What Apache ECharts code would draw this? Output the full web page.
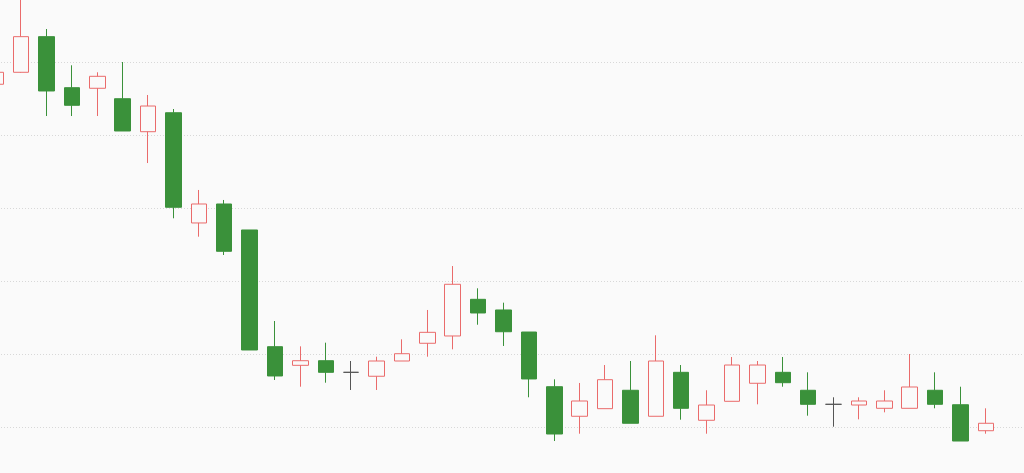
<!DOCTYPE html>
<html>
<head>
<meta charset="utf-8">
<script src="https://cdn.jsdelivr.net/npm/echarts@6/dist/echarts.min.js"></script>
<style>
html,body{margin:0;padding:0;background:#fafafa;width:1024px;height:473px;overflow:hidden;position:relative;}
#chart{position:absolute;left:-17px;top:-11px;width:1041px;height:511px;}
</style>
</head>
<body>
<div id="chart"></div>
<script>
const categories = Array.from({length: 41}, (_, i) => 'D' + (i + 1));
const openValues  = [66.95,68.59,73.47,66.48,66.40,64.97,60.45,63.05,47.95,50.55,46.99,31.00,28.45,29.08,27.49,26.95,29.04,31.47,32.47,37.49,36.03,33.01,25.52,21.47,22.51,25.03,21.47,27.49,20.92,23.52,25.99,27.49,25.03,23.11,23.01,22.56,22.56,25.03,23.05,19.49];
const closeValues = [68.59,73.47,66.03,64.07,68.04,60.55,63.97,50.10,50.55,44.07,30.55,26.99,29.08,27.49,27.49,29.04,30.04,32.97,39.55,35.62,33.05,26.58,19.04,23.56,26.48,20.51,29.04,22.56,23.01,28.49,28.49,26.07,23.11,23.11,23.56,23.56,25.48,23.11,18.08,20.51];
const lowValues   = [66.50,68.53,62.60,62.60,62.60,60.55,56.16,48.59,46.07,43.56,30.55,26.44,25.52,26.07,25.07,25.07,29.04,29.63,30.64,34.01,31.10,24.07,18.08,19.08,22.51,20.51,21.47,21.00,19.08,23.52,23.11,25.52,21.55,20.04,21.05,22.01,22.56,22.56,18.08,19.08];
const highValues  = [69.50,79.60,74.52,69.55,68.59,70.00,65.48,63.56,52.47,51.10,46.99,34.52,31.05,31.55,29.04,29.63,32.01,36.03,42.05,39.00,37.03,33.01,26.53,26.03,28.49,29.04,32.56,28.49,25.03,29.59,29.04,29.59,27.49,24.07,24.07,25.03,30.00,27.49,25.52,22.56];

const candleData = categories.map((_, i) => i < openValues.length
  ? [openValues[i], closeValues[i], lowValues[i], highValues[i]]
  : '-');

const chart = echarts.init(document.getElementById('chart'), null, {renderer: 'canvas'});
chart.setOption({
  animation: false,
  backgroundColor: '#fafafa',
  grid: {left: 0, right: 0, top: 0, bottom: 0, containLabel: false},
  xAxis: {
    type: 'category',
    data: categories,
    boundaryGap: true,
    axisLine: {show: false},
    axisTick: {show: false},
    axisLabel: {show: false},
    splitLine: {show: false}
  },
  yAxis: {
    type: 'value',
    min: 10,
    max: 80,
    interval: 10,
    axisLine: {show: false},
    axisTick: {show: false},
    axisLabel: {show: false},
    splitLine: {show: true, lineStyle: {color: '#d8d8d8', type: [1, 2], width: 1}}
  },
  series: [{
    type: 'candlestick',
    data: candleData,
    barWidth: 16,
    itemStyle: {
      color: '#fafafa',
      color0: '#3a913a',
      borderColor: '#ea6b6b',
      borderColor0: '#3a913a',
      borderColorDoji: '#555555',
      borderWidth: 1
    }
  }]
});
</script>
</body>
</html>
